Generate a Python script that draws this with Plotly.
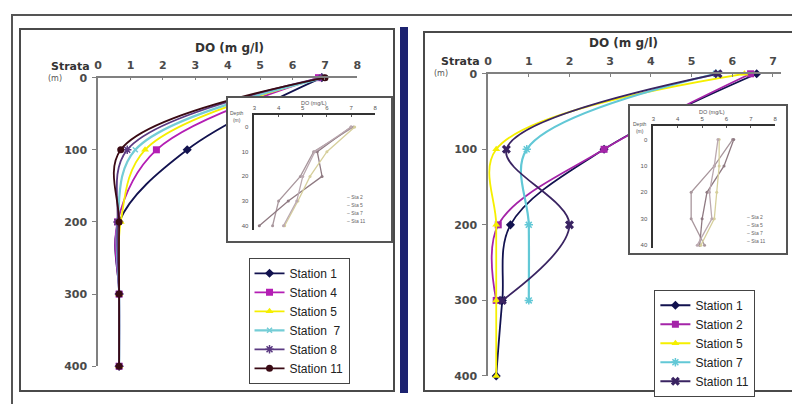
import plotly.graph_objects as go

W, H = 796, 411
def px(x):
    return x / W
def py(y):
    return 1 - y / H

# ---------------- data ----------------
depth = [0, 100, 200, 300, 400]

# left panel (DO mg/l by strata)
left_names = ["Station 1", "Station 4", "Station 5", "Station  7", "Station 8", "Station 11"]
left_s1 = [6.9, 2.75, 0.65, 0.65, 0.65]
left_s4 = [6.8, 1.8, 0.6, 0.65, 0.65]
left_s5 = [6.9, 1.45, 0.7, 0.65, 0.65]
left_s7 = [7.0, 1.15, 0.6, 0.65, 0.65]
left_s8 = [6.9, 0.9, 0.6, 0.65, 0.65]
left_s11 = [7.0, 0.7, 0.65, 0.65, 0.65]

# right panel
right_names = ["Station 1", "Station 2", "Station 5", "Station 7", "Station 11"]
right_s1_depth = [0, 100, 200, 300, 400]
right_s1 = [6.6, 2.85, 0.55, 0.35, 0.2]
right_s2_depth = [0, 100, 200, 300]
right_s2 = [6.45, 2.85, 0.25, 0.2]
right_s5_depth = [0, 100, 200, 300, 400]
right_s5 = [6.3, 0.2, 0.2, 0.2, 0.2]
right_s7_depth = [0, 100, 200, 300]
right_s7 = [5.6, 0.95, 1.0, 1.0]
right_s11_depth = [0, 100, 200, 300]
right_s11 = [5.65, 0.45, 2.0, 0.35]

# insets (DO mg/L by depth 0-40 m)
inset_depth = [0, 10, 20, 30, 40]
inset_names = ["Sta 2", "Sta 5", "Sta 7", "Sta 11"]
linset_s2 = [7.1, 5.45, 4.9, 4.0, 3.75]
linset_s5 = [7.0, 5.6, 5.8, 4.4, 3.2]
linset_s7 = [7.15, 6.0, 5.3, 4.8, 4.25]
linset_s11 = [7.0, 5.5, 5.0, 4.75, 4.2]
rinset_s2 = [6.25, 5.5, 4.55, 4.55, 5.1]
rinset_s5 = [6.3, 5.9, 5.2, 5.0, 4.9]
rinset_s7 = [5.7, 5.7, 5.6, 5.5, 4.95]
rinset_s11 = [5.65, 5.5, 5.3, 5.4, 4.8]

main_ticks_x_left = [0, 1, 2, 3, 4, 5, 6, 7, 8]
main_ticks_x_right = [0, 1, 2, 3, 4, 5, 6, 7]
main_ticks_y = [0, 100, 200, 300, 400]
inset_ticks_x = [3, 4, 5, 6, 7, 8]
inset_ticks_y = [0, 10, 20, 30, 40]

fig = go.Figure()

# ---- decoration subplots (frames, bar, inset boxes) need a subplot each ----
def helper(xa, ya):
    fig.add_trace(go.Scatter(x=[0.5], y=[0.5], xaxis=xa, yaxis=ya, mode="markers",
                             marker=dict(size=1, opacity=0), showlegend=False,
                             hoverinfo="skip"))

for xa, ya in (("x", "y"), ("x2", "y2"), ("x3", "y3"), ("x4", "y4")):
    helper(xa, ya)

def main_trace(xv, yv, name, color, symbol, size, xa, ya, legend, mline=None, width=1.8):
    marker = dict(symbol=symbol, size=size, color=color)
    if mline:
        marker["line"] = dict(color=color, width=mline)
    fig.add_trace(go.Scatter(
        x=xv, y=yv, name=name, mode="lines+markers",
        line=dict(color=color, width=width, shape="spline", smoothing=1.0),
        marker=marker, xaxis=xa, yaxis=ya, legend=legend, cliponaxis=False,
        hoverinfo="skip"))

# left main traces (x5/y5)
main_trace(left_s1, depth, left_names[0], "#12124f", "diamond", 7, "x5", "y5", "legend")
main_trace(left_s4, depth, left_names[1], "#b41eb4", "square", 7, "x5", "y5", "legend")
main_trace(left_s5, depth, left_names[2], "#f5ef00", "triangle-up", 7, "x5", "y5", "legend")
main_trace(left_s7, depth, left_names[3], "#74cdd6", "x-thin", 5, "x5", "y5", "legend", mline=1.5, width=2.2)
main_trace(left_s8, depth, left_names[4], "#5b3a82", "asterisk", 7, "x5", "y5", "legend", mline=1.5)
main_trace(left_s11, depth, left_names[5], "#3a0a14", "circle", 7, "x5", "y5", "legend")

# right main traces (x8/y8)
main_trace(right_s1, right_s1_depth, right_names[0], "#12124f", "diamond", 7, "x8", "y8", "legend2")
main_trace(right_s2, right_s2_depth, right_names[1], "#a424a8", "square", 7, "x8", "y8", "legend2")
main_trace(right_s5, right_s5_depth, right_names[2], "#f5ef00", "triangle-up", 7, "x8", "y8", "legend2")
main_trace(right_s7, right_s7_depth, right_names[3], "#62c8d6", "asterisk", 7, "x8", "y8", "legend2", mline=1.5, width=2.2)
main_trace(right_s11, right_s11_depth, right_names[4], "#3a2462", "x", 8, "x8", "y8", "legend2")

# inset boxes (their own white background hides main lines underneath)
helper("x6", "y6")
helper("x9", "y9")

inset_colors = ["#a8969c", "#8f7a82", "#d6cf9c", "#bba9b0"]

def inset_traces(series, xa, ya):
    for vals, nm, col in zip(series, inset_names, inset_colors):
        fig.add_trace(go.Scatter(
            x=vals, y=inset_depth, name=nm, mode="lines+markers",
            line=dict(color=col, width=1.3),
            marker=dict(size=3, color=col), xaxis=xa, yaxis=ya,
            showlegend=False, cliponaxis=False, hoverinfo="skip"))

inset_traces([linset_s2, linset_s5, linset_s7, linset_s11], "x7", "y7")
inset_traces([rinset_s2, rinset_s5, rinset_s7, rinset_s11], "x10", "y10")

tickfont_main = dict(family="DejaVu Sans", size=11, color="#4a4a4a", weight="bold")
tickfont_inset = dict(family="Liberation Sans", size=6, color="#555")

def main_x(dom, rng, ticks, anchor):
    return dict(domain=[px(dom[0]), px(dom[1])], range=rng, side="top", anchor=anchor,
                showline=True, linecolor="#808080", linewidth=1.5, ticks="inside",
                ticklen=3, tickcolor="#808080", tickvals=ticks, showgrid=False,
                zeroline=False, tickfont=tickfont_main, ticklabelstandoff=3, fixedrange=True)

def main_y(dom, rng, ticks, anchor):
    return dict(domain=[py(dom[1]), py(dom[0])], range=rng, anchor=anchor,
                showline=True, linecolor="#808080", linewidth=1.5, ticks="outside",
                ticklen=4, tickcolor="#808080", tickvals=ticks, showgrid=False,
                zeroline=False, tickfont=tickfont_main, ticklabelstandoff=3, fixedrange=True)

def inset_x(dom, ticks, anchor):
    return dict(domain=[px(dom[0]), px(dom[1])], range=[3, 8], side="top", anchor=anchor,
                showline=True, linecolor="#333", linewidth=1.8, ticks="inside", ticklen=2,
                tickcolor="#555", tickvals=ticks, showgrid=False, zeroline=False,
                tickfont=tickfont_inset, ticklabelstandoff=1, fixedrange=True)

def inset_y(dom, rng, ticks, anchor):
    return dict(domain=[py(dom[1]), py(dom[0])], range=rng, anchor=anchor,
                showline=True, linecolor="#333", linewidth=1.8, ticks="", tickvals=ticks,
                showgrid=False, zeroline=False, tickfont=tickfont_inset,
                ticklabelstandoff=3, fixedrange=True)

def deco(d0, d1, anchor, showline=False, mirror=False, color="#555", width=1.5, side=None):
    d = dict(domain=[max(0, d0), min(1, d1)], anchor=anchor, range=[0, 1], fixedrange=True,
             showline=showline, mirror=mirror, linecolor=color, linewidth=width,
             showgrid=False, zeroline=False, ticks="", showticklabels=False)
    if side:
        d["side"] = side
    return d

LBOX = (226, 95, 391, 243)
RBOX = (632, 103, 790, 255)

fig.update_layout(
    width=W, height=H, autosize=False,
    margin=dict(l=0, r=0, t=0, b=0),
    paper_bgcolor="white", plot_bgcolor="white",
    # outer border: top and left lines
    xaxis=deco(px(9), 1.0, "y", True, False, "#555", 1.5, side="top"),
    yaxis=deco(0.0, py(10), "x", True, False, "#555", 1.5),
    # left panel frame
    xaxis2=deco(px(17), px(393), "y2", True, True, "#4a4a4a", 2),
    yaxis2=deco(py(397), py(25), "x2", True, True, "#4a4a4a", 2),
    # right panel frame (continues past the right edge)
    xaxis3=deco(px(425), 1.0, "y3", True, True, "#4a4a4a", 2),
    yaxis3=deco(py(397), py(28), "x3", True, False, "#4a4a4a", 2),
    # navy separator bar
    xaxis4=deco(px(408), px(409), "y4"),
    yaxis4=deco(py(400), py(22), "x4", True, False, "#1c2270", 8),
    # left main
    xaxis5=main_x((95, 357), [0, 8], main_ticks_x_left, "y5"),
    yaxis5=main_y((74, 372), [400, 0], main_ticks_y, "x5"),
    # left inset box
    xaxis6=deco(px(LBOX[0]), px(LBOX[2]), "y6", True, True, "#555", 1.5),
    yaxis6=deco(py(LBOX[3]), py(LBOX[1]), "x6", True, True, "#555", 1.5),
    # left inset axes
    xaxis7=inset_x((253, 375), inset_ticks_x, "y7"),
    yaxis7=inset_y((113, 231), [41.6, -4.7], inset_ticks_y, "x7"),
    # right main
    xaxis8=main_x((489, 785), [0, 7.2], main_ticks_x_right, "y8"),
    yaxis8=main_y((70, 382), [400, 0], main_ticks_y, "x8"),
    # right inset box
    xaxis9=deco(px(RBOX[0]), px(RBOX[2]), "y9", True, True, "#555", 1.5),
    yaxis9=deco(py(RBOX[3]), py(RBOX[1]), "x9", True, True, "#555", 1.5),
    # right inset axes
    xaxis10=inset_x((656, 779), inset_ticks_x, "y10"),
    yaxis10=inset_y((124, 250), [41.1, -5.1], inset_ticks_y, "x10"),
    legend=dict(x=px(247), y=py(260), xanchor="left", yanchor="top",
                bordercolor="#444", borderwidth=1, bgcolor="white",
                font=dict(family="Liberation Sans", size=12, color="#222"),
                itemwidth=30, tracegroupgap=0),
    legend2=dict(x=px(657), y=py(293), xanchor="left", yanchor="top",
                 bordercolor="#444", borderwidth=1, bgcolor="white",
                 font=dict(family="Liberation Sans", size=12, color="#222"),
                 itemwidth=30, tracegroupgap=0),
    showlegend=True,
)

ann = []
def text(x, y, s, size=11, bold=False, color="#333", xanchor="center", family="DejaVu Sans"):
    ann.append(dict(x=px(x), y=py(y), xref="paper", yref="paper", text=s, showarrow=False,
                    xanchor=xanchor, yanchor="middle",
                    font=dict(family=family, size=size, color=color,
                              weight="bold" if bold else "normal")))

# left panel labels
text(228, 43, "DO (m g/l)", 12, True, "#333")
text(89, 62, "Strata", 11, True, "#333", "right")
text(52, 75, "(m)", 8, False, "#555")
# right panel labels
text(626, 38, "DO (m g/l)", 12, True, "#333")
text(483, 57, "Strata", 11, True, "#333", "right")
text(441, 70, "(m)", 8, False, "#555")

# inset titles
text(313, 100, "DO (mg/L)", 5.5, False, "#555", family="Liberation Sans")
text(235, 114, "Depth<br>(m)", 5, False, "#555", family="Liberation Sans")
text(715, 109, "DO (mg/L)", 5.5, False, "#555", family="Liberation Sans")
text(642, 125, "Depth<br>(m)", 5, False, "#555", family="Liberation Sans")

# inset legends
for i, nm in enumerate(inset_names):
    text(344, 197 + 8.3 * i, "– " + nm, 5, False, "#666", "left", "Liberation Sans")
    text(749, 218 + 8.3 * i, "– " + nm, 5, False, "#666", "left", "Liberation Sans")

fig.update_layout(annotations=ann)

fig.write_html("out.html")
